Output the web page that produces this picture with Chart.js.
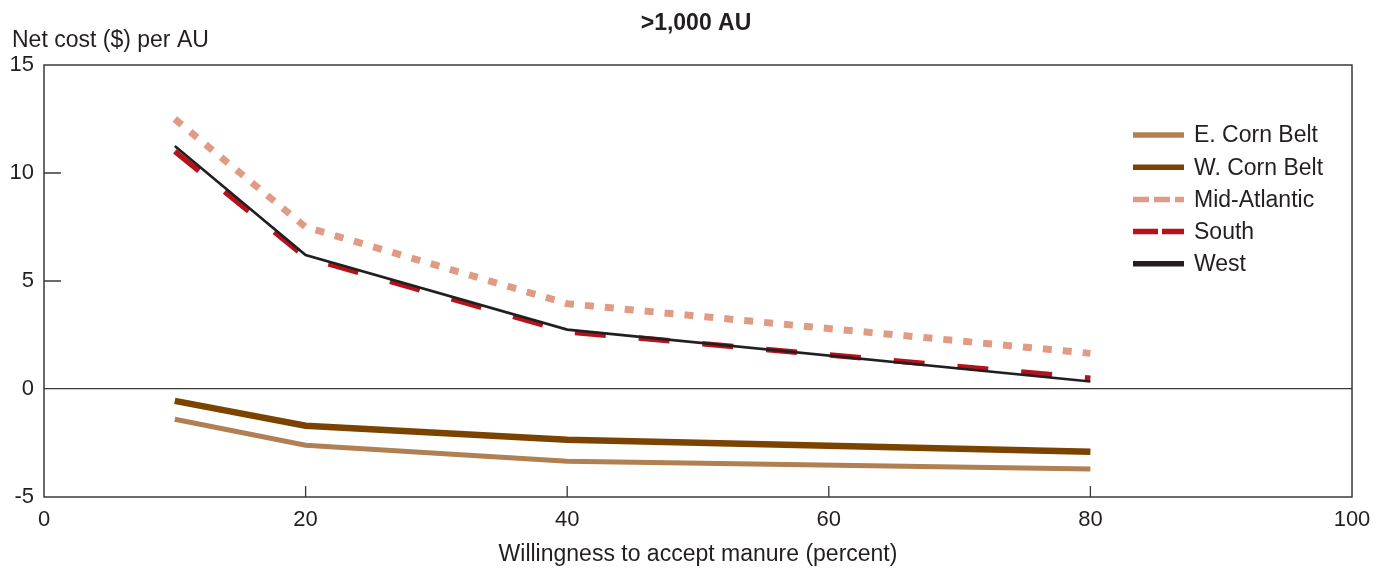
<!DOCTYPE html>
<html>
<head>
<meta charset="utf-8">
<script src="https://cdn.jsdelivr.net/npm/chart.js@4.4.1/dist/chart.umd.min.js"></script>
<style>
  html, body { margin: 0; padding: 0; background: #fff; }
  #wrap { width: 1383px; height: 570px; }
</style>
</head>
<body>
<div id="wrap"><canvas id="netCostChart" width="1383" height="570"></canvas></div>
<script>
// willingness to accept manure (percent)
const willingness = [10, 20, 40, 80];

// net cost ($) per AU, >1,000 AU
const eCornBelt = [-1.4, -2.6, -3.35, -3.7];
const wCornBelt = [-0.55, -1.7, -2.35, -2.9];
const midAtlantic = [12.5, 7.5, 3.95, 1.65];
const south = [11.0, 6.1, 2.65, 0.5];
const west = [11.25, 6.2, 2.75, 0.35];

const seriesNames = ["E. Corn Belt", "W. Corn Belt", "Mid-Atlantic", "South", "West"];
const xTicks = [0, 20, 40, 60, 80, 100];
const yTicks = [-5, 0, 5, 10, 15];

const textColor = "#231F20";
const fontFamily = "'Liberation Sans', Arial, sans-serif";

const styles = [
    { color: "#B07F52", width: 5, dash: [], legendDash: [], legendWidth: 5.5 },
    { color: "#7A4400", width: 6.5, dash: [], legendDash: [], legendWidth: 5.5 },
    { color: "#E09B85", width: 7, dash: [9, 11], legendDash: [16, 5], legendWidth: 5.5 },
    { color: "#B7121C", width: 5.5, dash: [31, 33], legendDash: [25, 4], legendWidth: 5.5 },
    { color: "#231F20", width: 2.6, dash: [], legendDash: [], legendWidth: 5.5 },
];

const allSeries = [eCornBelt, wCornBelt, midAtlantic, south, west];
const drawOrder = [4, 3, 2, 1, 0];

const datasets = allSeries.map((values, i) => ({
    label: seriesNames[i],
    data: willingness.map((x, j) => ({ x: x, y: values[j] })),
    borderColor: styles[i].color,
    borderWidth: styles[i].width,
    borderDash: styles[i].dash,
    borderCapStyle: "butt",
    borderJoinStyle: "miter",
    pointRadius: 0,
    tension: 0,
    fill: false,
    order: drawOrder[i],
}));

// frame, inner tick marks, titles and legend
const decorations = {
    id: "decorations",
    afterDraw(chart) {
        const { ctx, chartArea: a, scales } = chart;
        ctx.save();

        ctx.strokeStyle = "#3a3a3a";
        ctx.lineWidth = 1.5;
        ctx.strokeRect(a.left, a.top, a.right - a.left, a.bottom - a.top);

        ctx.lineWidth = 1.3;
        ctx.beginPath();
        yTicks.slice(1, -1).forEach((v) => {
            if (v === 0) return;
            const py = scales.y.getPixelForValue(v);
            ctx.moveTo(a.left, py);
            ctx.lineTo(a.left + 17, py);
        });
        xTicks.slice(1, -1).forEach((v) => {
            const px = scales.x.getPixelForValue(v);
            ctx.moveTo(px, a.bottom);
            ctx.lineTo(px, a.bottom - 11);
        });
        ctx.stroke();

        ctx.fillStyle = textColor;
        ctx.textBaseline = "middle";
        ctx.font = "bold 23px " + fontFamily;
        ctx.textAlign = "center";
        ctx.fillText(">1,000 AU", 696, 24);

        ctx.font = "23px " + fontFamily;
        ctx.textAlign = "left";
        ctx.fillText("Net cost ($) per AU", 12, 41);

        // legend
        const rowY = 135, rowGap = 32.2;
        chart.data.datasets.forEach((ds, i) => {
            const y = rowY + i * rowGap;
            ctx.strokeStyle = styles[i].color;
            ctx.lineWidth = styles[i].legendWidth;
            ctx.lineCap = "butt";
            ctx.setLineDash(styles[i].legendDash);
            ctx.beginPath();
            ctx.moveTo(1133, y);
            ctx.lineTo(1184, y);
            ctx.stroke();
            ctx.setLineDash([]);
            ctx.fillStyle = textColor;
            ctx.fillText(ds.label, 1194, y + 1);
        });
        ctx.restore();
    },
};

new Chart(document.getElementById("netCostChart"), {
    type: "line",
    data: { datasets: datasets },
    options: {
        responsive: false,
        animation: false,
        devicePixelRatio: 1,
        layout: { padding: { top: 65, right: 31, left: 0, bottom: 0 } },
        plugins: {
            legend: { display: false },
            tooltip: { enabled: false },
        },
        scales: {
            x: {
                type: "linear",
                min: 0,
                max: 100,
                afterBuildTicks: (scale) => {
                    scale.ticks = xTicks.map((v) => ({ value: v }));
                },
                afterFit: (scale) => {
                    scale.height = 73;
                },
                grid: { display: false, drawTicks: false },
                border: { display: false },
                ticks: {
                    color: textColor,
                    font: { family: fontFamily, size: 22 },
                    padding: 10,
                    maxRotation: 0,
                    autoSkip: false,
                },
                title: {
                    display: true,
                    text: "Willingness to accept manure (percent)",
                    color: textColor,
                    font: { family: fontFamily, size: 23 },
                    padding: { top: 0, bottom: 2 },
                },
            },
            y: {
                type: "linear",
                min: -5,
                max: 15,
                afterBuildTicks: (scale) => {
                    scale.ticks = yTicks.map((v) => ({ value: v }));
                },
                afterFit: (scale) => {
                    scale.width = 44;
                },
                grid: {
                    drawTicks: false,
                    lineWidth: 1.3,
                    color: (c) => (c.tick && c.tick.value === 0 ? "#3a3a3a" : "rgba(0,0,0,0)"),
                },
                border: { display: false },
                ticks: {
                    color: textColor,
                    font: { family: fontFamily, size: 22 },
                    padding: 10,
                },
            },
        },
    },
    plugins: [decorations],
});
</script>
</body>
</html>
